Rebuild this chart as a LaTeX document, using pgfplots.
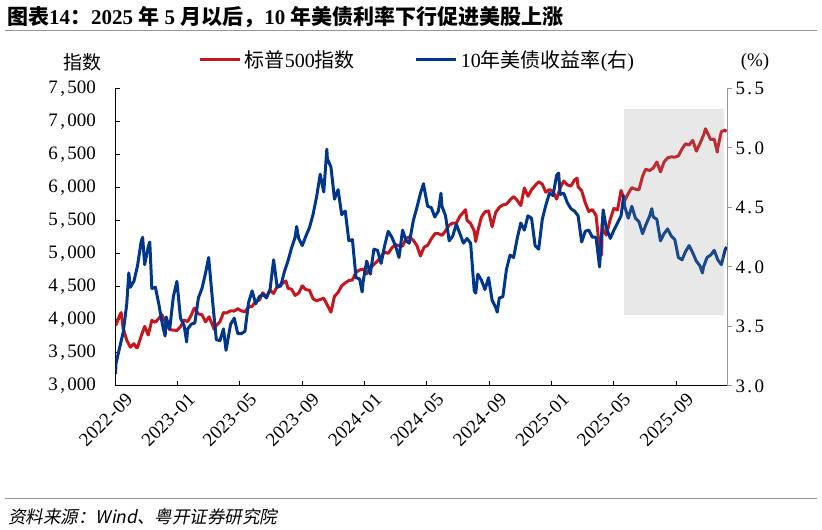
\documentclass[border=0pt]{standalone}
\usepackage{pgfplots}
\pgfplotsset{compat=1.18}
\usepgfplotslibrary{dateplot}
\usepackage{fontspec}
\setmainfont{Liberation Serif}
\newfontfamily\cjk{Noto Sans CJK SC}
\newfontfamily\cjkit[FakeSlant=0.2]{Noto Sans CJK SC}
\newcommand\zh[1]{{\cjk #1}}
% half-em punctuation, as in the Song-style number font
\newcommand\hy{\makebox[0.5em]{-}}
\newcommand\cm{\makebox[0.5em]{,}}
\newcommand\pt{\makebox[0.5em]{.}}

\definecolor{spx}{RGB}{200,22,30}
\definecolor{ust}{RGB}{0,55,140}
\definecolor{rulegray}{RGB}{150,150,150}

\pgfplotsset{
  base/.style={
    at={(115.5bp,144bp)}, anchor=south west,
    scale only axis, width=611.5bp, height=297.5bp,
    date coordinates in=x, date ZERO=2022-09-01,
    xmin=2022-09-01, xmax=2025-12-09,
    tick label style={font=\fontsize{19bp}{22bp}\selectfont},
    /pgf/number format/assume math mode=true,
    major tick length=5bp,
  }
}

\begin{document}
\begin{tikzpicture}
\useasboundingbox (0bp,0bp) rectangle (822bp,530bp);

% title and rules
\node[anchor=west, inner sep=0] at (7bp,513bp)
  {\fontsize{21bp}{24bp}\selectfont\bfseries
   \zh{\bfseries 图表}14\zh{\bfseries ：}2025 \zh{\bfseries 年} 5 \zh{\bfseries 月以后，}10 \zh{\bfseries 年美债利率下行促进美股上涨}};
\draw[rulegray, line width=0.9bp] (5bp,500bp) -- (817bp,500bp);
\draw[rulegray, line width=0.9bp] (5bp,32bp) -- (817bp,32bp);
\node[anchor=west, inner sep=0] at (8bp,13bp)
  {\fontsize{17.5bp}{21bp}\selectfont\cjkit 资料来源：\textit{Wind}\cjkit 、粤开证券研究院};

% axis captions
\node[inner sep=0] at (82bp,468bp) {\fontsize{19bp}{22bp}\selectfont\zh{指数}};
\node[inner sep=0] at (755bp,468bp) {\fontsize{19bp}{22bp}\selectfont (\%)};

% left axis: S&P 500
\begin{axis}[base,
  axis x line*=bottom, axis y line*=left,
  axis line style={black, line width=1bp},
  tick style={black, line width=1bp},
  tick align=inside,
  xtick={2022-09-01,2023-01-01,2023-05-01,2023-09-01,2024-01-01,2024-05-01,2024-09-01,2025-01-01,2025-05-01,2025-09-01},
  xticklabels={2022\hy09,2023\hy01,2023\hy05,2023\hy09,2024\hy01,2024\hy05,2024\hy09,2025\hy01,2025\hy05,2025\hy09},
  xticklabel style={rotate=45, anchor=east, xshift=6bp, yshift=-17bp},
  ymin=3000, ymax=7500, ytick={3000,3500,...,7500},
  yticklabel style={/pgf/number format/1000 sep={\cm}, xshift=-16bp},
]
\addplot[spx, line width=3bp, line join=round] coordinates {
(2022-09-01,3966) (2022-09-02,3924) (2022-09-09,4067) (2022-09-12,4110)
(2022-09-16,3873) (2022-09-23,3693) (2022-09-30,3586) (2022-10-07,3640)
(2022-10-12,3577) (2022-10-14,3583) (2022-10-21,3753) (2022-10-28,3901)
(2022-11-04,3771) (2022-11-11,3993) (2022-11-18,3965) (2022-11-25,4026)
(2022-12-01,4076) (2022-12-09,3934) (2022-12-16,3852) (2022-12-23,3845)
(2022-12-30,3840) (2023-01-06,3895) (2023-01-13,3999) (2023-01-20,3973)
(2023-01-27,4071) (2023-02-02,4179) (2023-02-10,4090) (2023-02-17,4079)
(2023-02-24,3970) (2023-03-03,4046) (2023-03-13,3855) (2023-03-17,3917)
(2023-03-24,3971) (2023-03-31,4109) (2023-04-06,4105) (2023-04-14,4138)
(2023-04-21,4133) (2023-04-28,4169) (2023-05-05,4136) (2023-05-12,4124)
(2023-05-19,4192) (2023-05-26,4205) (2023-06-02,4282) (2023-06-09,4299)
(2023-06-16,4410) (2023-06-23,4348) (2023-06-30,4450) (2023-07-07,4399)
(2023-07-14,4505) (2023-07-21,4536) (2023-07-31,4589) (2023-08-04,4478)
(2023-08-11,4464) (2023-08-18,4370) (2023-08-25,4406) (2023-09-01,4516)
(2023-09-08,4457) (2023-09-15,4450) (2023-09-22,4320) (2023-09-29,4288)
(2023-10-06,4309) (2023-10-13,4327) (2023-10-20,4224) (2023-10-27,4117)
(2023-11-03,4358) (2023-11-10,4415) (2023-11-17,4514) (2023-11-24,4559)
(2023-12-01,4595) (2023-12-08,4604) (2023-12-15,4719) (2023-12-22,4755)
(2023-12-29,4770) (2024-01-05,4697) (2024-01-12,4784) (2024-01-19,4840)
(2024-01-26,4891) (2024-02-02,4959) (2024-02-09,5027) (2024-02-16,5006)
(2024-02-23,5089) (2024-03-01,5137) (2024-03-08,5124) (2024-03-15,5117)
(2024-03-22,5234) (2024-03-28,5254) (2024-04-05,5204) (2024-04-12,5123)
(2024-04-19,4967) (2024-04-26,5100) (2024-05-03,5128) (2024-05-10,5223)
(2024-05-17,5303) (2024-05-24,5305) (2024-05-31,5278) (2024-06-07,5347)
(2024-06-14,5432) (2024-06-21,5465) (2024-06-28,5460) (2024-07-05,5567)
(2024-07-16,5667) (2024-07-19,5505) (2024-07-26,5459) (2024-08-02,5346)
(2024-08-05,5186) (2024-08-09,5344) (2024-08-16,5554) (2024-08-23,5634)
(2024-08-30,5648) (2024-09-06,5408) (2024-09-13,5626) (2024-09-20,5703)
(2024-09-27,5738) (2024-10-04,5751) (2024-10-11,5815) (2024-10-18,5865)
(2024-10-25,5808) (2024-11-01,5729) (2024-11-08,5996) (2024-11-15,5870)
(2024-11-22,5969) (2024-11-29,6032) (2024-12-06,6090) (2024-12-13,6051)
(2024-12-20,5931) (2024-12-27,5971) (2025-01-03,5942) (2025-01-10,5827)
(2025-01-17,5997) (2025-01-24,6101) (2025-01-31,6041) (2025-02-07,6026)
(2025-02-14,6115) (2025-02-19,6144) (2025-02-21,6013) (2025-02-28,5955)
(2025-03-07,5770) (2025-03-14,5639) (2025-03-21,5668) (2025-03-28,5581)
(2025-04-04,5074) (2025-04-08,4983) (2025-04-09,5457) (2025-04-11,5363)
(2025-04-17,5283) (2025-04-25,5525) (2025-05-02,5687) (2025-05-09,5660)
(2025-05-16,5958) (2025-05-23,5803) (2025-05-30,5912) (2025-06-06,6000)
(2025-06-13,5977) (2025-06-20,5968) (2025-06-27,6173) (2025-07-03,6279)
(2025-07-11,6260) (2025-07-18,6297) (2025-07-25,6389) (2025-08-01,6238)
(2025-08-08,6389) (2025-08-15,6450) (2025-08-22,6467) (2025-08-29,6460)
(2025-09-05,6482) (2025-09-12,6584) (2025-09-19,6664) (2025-09-26,6644)
(2025-10-03,6716) (2025-10-10,6553) (2025-10-17,6664) (2025-10-24,6792)
(2025-10-28,6891) (2025-10-31,6840) (2025-11-07,6729) (2025-11-14,6734)
(2025-11-20,6538) (2025-11-21,6603) (2025-11-28,6849) (2025-12-05,6870)
(2025-12-08,6847)
};
\end{axis}

% right axis: 10-year Treasury yield
\begin{axis}[base,
  axis x line=none, axis y line*=right,
  axis line style={rulegray, line width=1bp},
  ytick style={rulegray, line width=1bp},
  tick align=outside,
  ymin=3, ymax=5.5, ytick={3,3.5,...,5.5},
  yticklabel style={/pgf/number format/.cd, fixed, fixed zerofill, precision=1, dec sep={\pt}},
  legend columns=2,
  legend style={draw=none, fill=none, at={(0.135,1.096)}, anchor=west,
    inner sep=0pt, font=\fontsize{20bp}{23bp}\selectfont,
    nodes={inner sep=3.5bp},
    /tikz/every even column/.append style={column sep=56bp}},
  legend cell align=left,
  legend image code/.code={\draw[#1, line width=3bp] (0bp,0bp) -- (40bp,0bp);},
]
\addlegendimage{spx}
\addlegendentry{\zh{标普}500\zh{指数}}
\addplot[ust, line width=3bp, line join=round] coordinates {
(2022-09-01,3.10) (2022-09-02,3.19) (2022-09-09,3.32) (2022-09-16,3.45)
(2022-09-23,3.69) (2022-09-27,3.95) (2022-09-30,3.83) (2022-10-07,3.88)
(2022-10-14,4.01) (2022-10-21,4.21) (2022-10-24,4.25) (2022-10-28,4.02)
(2022-11-04,4.17) (2022-11-07,4.21) (2022-11-11,3.82) (2022-11-18,3.83)
(2022-11-25,3.68) (2022-12-02,3.51) (2022-12-07,3.42) (2022-12-09,3.58)
(2022-12-16,3.48) (2022-12-23,3.75) (2022-12-30,3.88) (2023-01-06,3.57)
(2023-01-13,3.51) (2023-01-18,3.37) (2023-01-20,3.48) (2023-01-27,3.52)
(2023-02-03,3.53) (2023-02-10,3.74) (2023-02-17,3.82) (2023-02-24,3.95)
(2023-03-02,4.08) (2023-03-10,3.70) (2023-03-17,3.39) (2023-03-24,3.38)
(2023-03-31,3.48) (2023-04-05,3.30) (2023-04-14,3.52) (2023-04-21,3.57)
(2023-04-28,3.44) (2023-05-05,3.44) (2023-05-12,3.46) (2023-05-19,3.70)
(2023-05-26,3.80) (2023-06-02,3.69) (2023-06-09,3.75) (2023-06-16,3.77)
(2023-06-23,3.74) (2023-06-30,3.81) (2023-07-07,4.06) (2023-07-14,3.83)
(2023-07-21,3.84) (2023-07-28,3.96) (2023-08-04,4.05) (2023-08-11,4.16)
(2023-08-18,4.25) (2023-08-21,4.34) (2023-08-25,4.24) (2023-09-01,4.18)
(2023-09-08,4.26) (2023-09-15,4.33) (2023-09-22,4.44) (2023-09-29,4.59)
(2023-10-06,4.78) (2023-10-13,4.63) (2023-10-19,4.99) (2023-10-20,4.91)
(2023-10-27,4.84) (2023-11-03,4.57) (2023-11-10,4.65) (2023-11-17,4.44)
(2023-11-24,4.47) (2023-12-01,4.22) (2023-12-08,4.23) (2023-12-15,3.91)
(2023-12-22,3.90) (2023-12-27,3.79) (2023-12-29,3.88) (2024-01-05,4.05)
(2024-01-12,3.94) (2024-01-19,4.15) (2024-01-26,4.14) (2024-02-02,4.03)
(2024-02-09,4.18) (2024-02-16,4.30) (2024-02-23,4.25) (2024-03-01,4.18)
(2024-03-08,4.08) (2024-03-15,4.31) (2024-03-22,4.22) (2024-03-28,4.20)
(2024-04-05,4.39) (2024-04-12,4.50) (2024-04-19,4.62) (2024-04-25,4.70)
(2024-04-26,4.67) (2024-05-03,4.51) (2024-05-10,4.50) (2024-05-17,4.42)
(2024-05-24,4.47) (2024-05-29,4.62) (2024-05-31,4.51) (2024-06-07,4.43)
(2024-06-14,4.22) (2024-06-21,4.26) (2024-06-28,4.36) (2024-07-05,4.28)
(2024-07-12,4.20) (2024-07-19,4.24) (2024-07-26,4.20) (2024-08-02,3.80)
(2024-08-05,3.78) (2024-08-09,3.94) (2024-08-16,3.89) (2024-08-23,3.81)
(2024-08-30,3.91) (2024-09-06,3.72) (2024-09-13,3.66) (2024-09-16,3.62)
(2024-09-20,3.74) (2024-09-27,3.75) (2024-10-04,3.98) (2024-10-11,4.10)
(2024-10-18,4.08) (2024-10-25,4.24) (2024-11-01,4.37) (2024-11-08,4.31)
(2024-11-15,4.43) (2024-11-22,4.41) (2024-11-29,4.18) (2024-12-06,4.15)
(2024-12-13,4.40) (2024-12-20,4.52) (2024-12-27,4.62) (2025-01-03,4.60)
(2025-01-10,4.77) (2025-01-14,4.79) (2025-01-17,4.61) (2025-01-24,4.62)
(2025-01-31,4.54) (2025-02-07,4.49) (2025-02-14,4.47) (2025-02-21,4.43)
(2025-02-28,4.21) (2025-03-07,4.30) (2025-03-14,4.31) (2025-03-21,4.25)
(2025-03-28,4.25) (2025-04-04,4.00) (2025-04-11,4.48) (2025-04-17,4.33)
(2025-04-25,4.24) (2025-05-02,4.31) (2025-05-09,4.37) (2025-05-16,4.43)
(2025-05-21,4.60) (2025-05-23,4.51) (2025-05-30,4.41) (2025-06-06,4.51)
(2025-06-13,4.41) (2025-06-20,4.38) (2025-06-27,4.28) (2025-07-03,4.35)
(2025-07-11,4.43) (2025-07-15,4.49) (2025-07-18,4.42) (2025-07-25,4.40)
(2025-08-01,4.22) (2025-08-08,4.28) (2025-08-15,4.32) (2025-08-22,4.26)
(2025-08-29,4.23) (2025-09-05,4.08) (2025-09-12,4.06) (2025-09-19,4.13)
(2025-09-26,4.18) (2025-10-03,4.12) (2025-10-10,4.05) (2025-10-17,4.01)
(2025-10-22,3.95) (2025-10-24,4.00) (2025-10-31,4.08) (2025-11-07,4.10)
(2025-11-14,4.14) (2025-11-21,4.06) (2025-11-28,4.02) (2025-12-05,4.14)
(2025-12-08,4.17)
};
\addlegendentry{10\zh{年美债收益率}(\zh{右})}
% shaded window since late May 2025
\addplot[draw=none, fill=black!45, fill opacity=0.2, forget plot] coordinates {
(2025-05-21,3.6) (2025-12-03,3.6) (2025-12-03,5.33) (2025-05-21,5.33)
} -- cycle;
\end{axis}
\end{tikzpicture}
\end{document}
